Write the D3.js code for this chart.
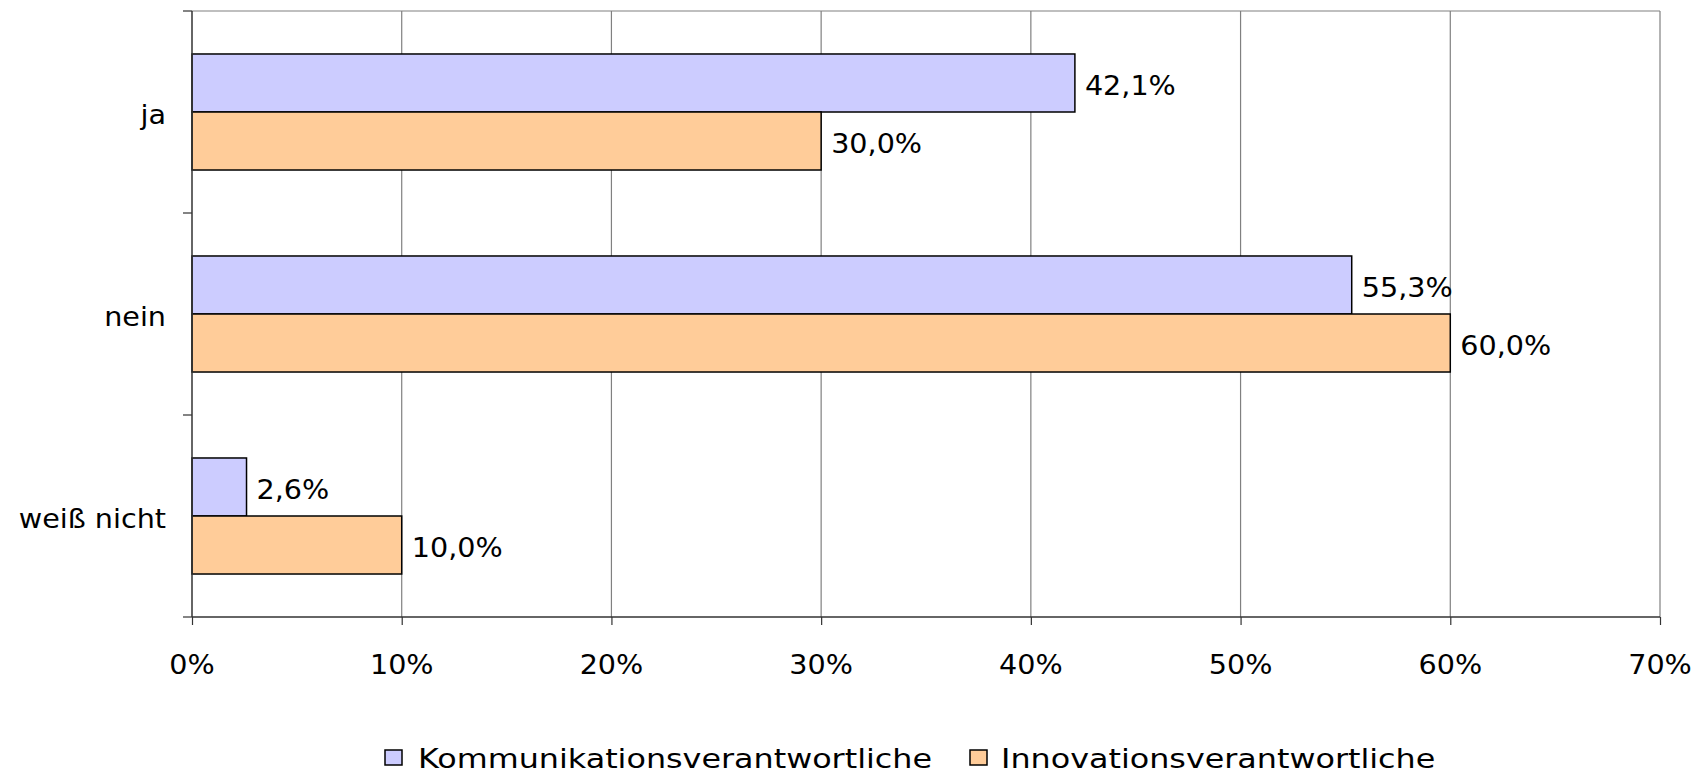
<!DOCTYPE html>
<html>
<head>
<meta charset="utf-8">
<script src="https://cdn.jsdelivr.net/npm/d3@7"></script>
<style>
  html, body { margin: 0; padding: 0; background: #fff; }
  svg { display: block; }
  text { font-family: "DejaVu Sans", Verdana, sans-serif; fill: #000; }
</style>
</head>
<body>
<svg id="chart" width="1706" height="774"></svg>
<script>
// Antworten je Gruppe (Anteile in %)
const categories = ["ja", "nein", "weiß nicht"];
const seriesNames = ["Kommunikationsverantwortliche", "Innovationsverantwortliche"];
const kommunikation = [42.1, 55.3, 2.6];
const innovation = [30.0, 60.0, 10.0];
const xTicks = [0, 10, 20, 30, 40, 50, 60, 70];
const colors = ["#CCCCFF", "#FFCC99"];

const series = [kommunikation, innovation];

const svg = d3.select("#chart");
const plot = { left: 192, right: 1660, top: 11, bottom: 617 };
const fontSize = 26.5;
const stretch = 1.08;
const dy = 2.5; // nudge for vertically centred labels

const x = d3.scaleLinear().domain([0, 70]).range([plot.left, plot.right]);
const y = d3.scaleBand().domain(categories).range([plot.top, plot.bottom]).padding(0);
const ySub = d3.scaleBand().domain(d3.range(series.length))
  .range([0, y.bandwidth()]).paddingInner(0).paddingOuter(0.741);

// text drawn with a slight horizontal stretch
function label(g, txt, px, py, anchor, size, sx) {
  return g.append("text")
    .attr("transform", `translate(${px},${py}) scale(${sx},1)`)
    .attr("text-anchor", anchor)
    .attr("dominant-baseline", "central")
    .style("font-size", size + "px")
    .text(txt);
}

// vertical gridlines
svg.append("g").selectAll("line").data(xTicks.slice(1)).join("line")
  .attr("x1", d => x(d)).attr("x2", d => x(d))
  .attr("y1", plot.top).attr("y2", plot.bottom)
  .attr("stroke", "#808080").attr("stroke-width", 1.2);

// top border of plot area
svg.append("line")
  .attr("x1", plot.left).attr("x2", plot.right)
  .attr("y1", plot.top).attr("y2", plot.top)
  .attr("stroke", "#808080").attr("stroke-width", 1.2);

// bars
const groups = svg.append("g").selectAll("g").data(categories).join("g")
  .attr("transform", d => `translate(0,${y(d)})`);

groups.each(function(cat, ci) {
  const g = d3.select(this);
  series.forEach((vals, si) => {
    const v = vals[ci];
    g.append("rect")
      .attr("x", x(0))
      .attr("y", ySub(si))
      .attr("width", x(v) - x(0))
      .attr("height", ySub.bandwidth())
      .attr("fill", colors[si])
      .attr("stroke", "#000")
      .attr("stroke-width", 1.5);
    label(g, d3.format(".1f")(v).replace(".", ",") + "%",
      x(v) + 10, ySub(si) + ySub.bandwidth() / 2 + dy, "start", fontSize, stretch);
  });
});

// x axis
const xAxis = d3.axisBottom(x).tickValues(xTicks).tickSize(8).tickFormat("");
const gx = svg.append("g").attr("transform", `translate(0,${plot.bottom})`).call(xAxis);
gx.select(".domain").attr("stroke", "#333").attr("stroke-width", 1.5).attr("d", `M${plot.left},0H${plot.right}`);
gx.selectAll(".tick line").attr("stroke", "#333").attr("stroke-width", 1.2);
xTicks.forEach(t => label(svg, t + "%", x(t), 665, "middle", fontSize, stretch));

// y axis with ticks at category boundaries
const yBounds = categories.map(c => y(c)).concat([plot.bottom]);
svg.append("line")
  .attr("x1", plot.left).attr("x2", plot.left)
  .attr("y1", plot.top).attr("y2", plot.bottom)
  .attr("stroke", "#333").attr("stroke-width", 1.5);
svg.append("g").selectAll("line").data(yBounds).join("line")
  .attr("x1", plot.left - 9).attr("x2", plot.left)
  .attr("y1", d => d).attr("y2", d => d)
  .attr("stroke", "#333").attr("stroke-width", 1.2);
categories.forEach(c => label(svg, c, 166, y(c) + y.bandwidth() / 2 + dy, "end", fontSize, stretch));

// legend
const legendItems = [
  { name: seriesNames[0], color: colors[0], sx: 385, tx: 418 },
  { name: seriesNames[1], color: colors[1], sx: 970, tx: 1001 }
];
legendItems.forEach(d => {
  svg.append("rect")
    .attr("x", d.sx).attr("y", 750).attr("width", 17).attr("height", 15)
    .attr("fill", d.color).attr("stroke", "#000").attr("stroke-width", 1.5);
  label(svg, d.name, d.tx, 759, "start", fontSize, 1.2);
});
</script>
</body>
</html>
